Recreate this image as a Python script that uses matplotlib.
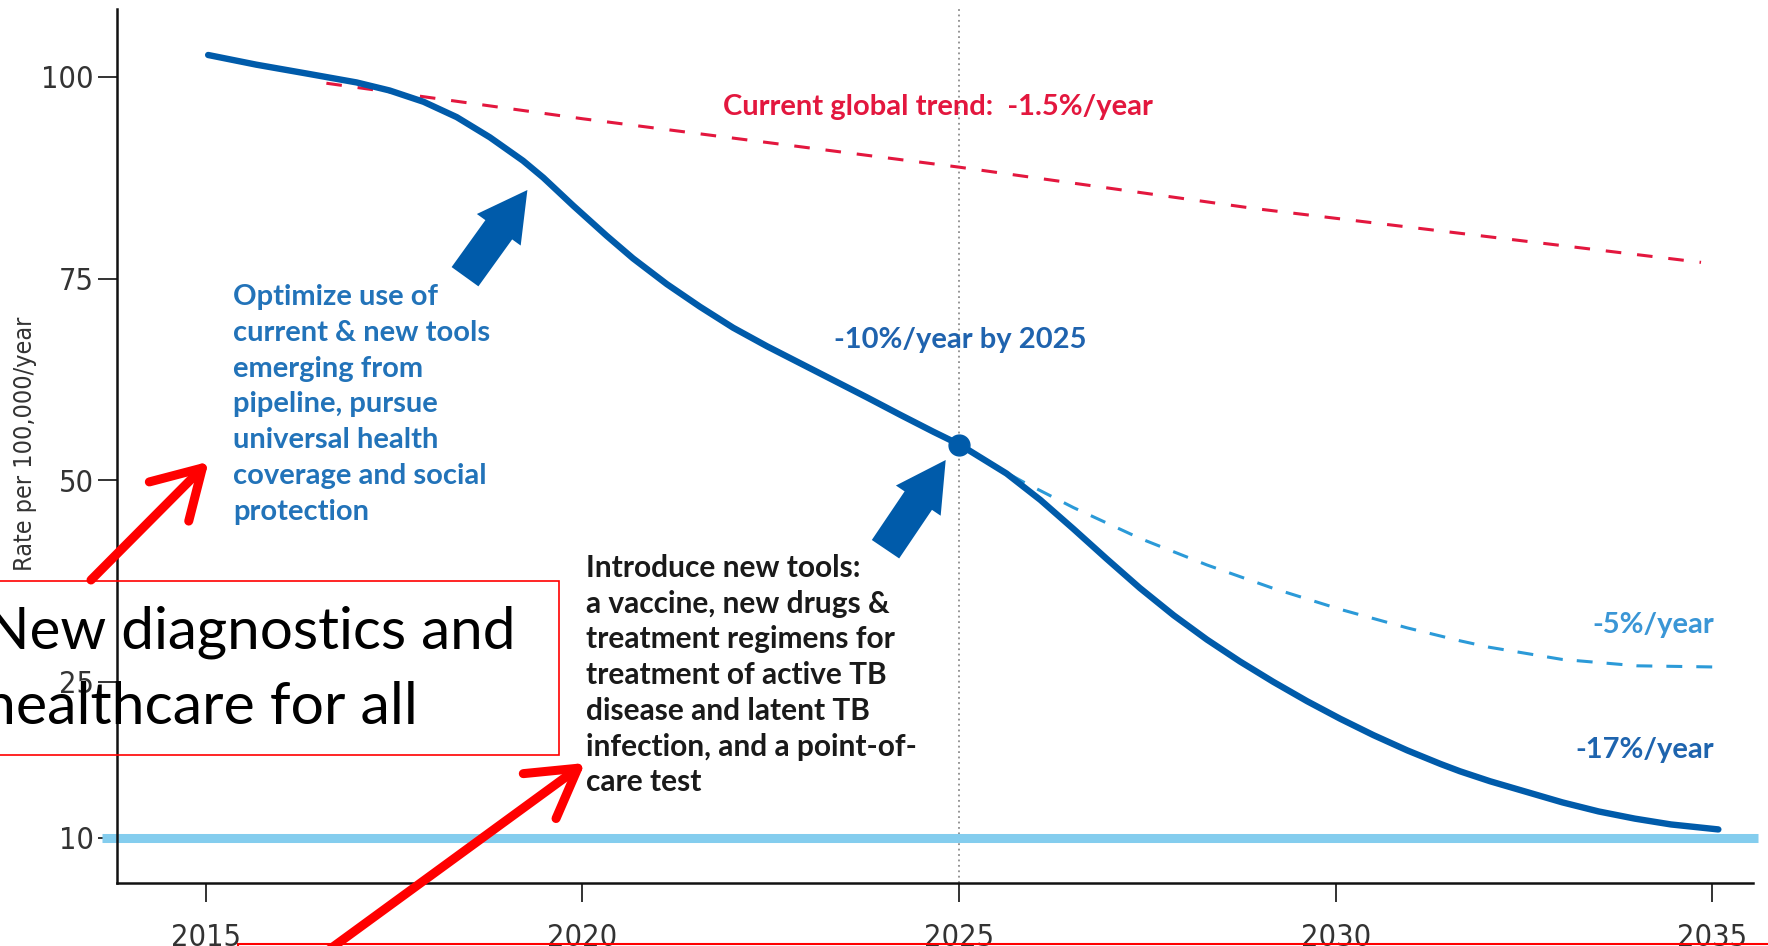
import numpy as np
import matplotlib
matplotlib.use("Agg")
import matplotlib.pyplot as plt
from matplotlib import font_manager as fm
from matplotlib.patches import FancyArrow, Rectangle

# ---------------- data ----------------
years_main = [2015.03, 2015.67, 2016.34, 2017.00, 2017.44, 2017.89, 2018.33, 2018.77,
              2019.21, 2019.48, 2019.88, 2020.32, 2020.67, 2021.12, 2021.56, 2022.00,
              2022.45, 2022.89, 2023.33, 2023.77, 2024.22, 2024.66, 2025.01,
              2025.63, 2026.08, 2026.52, 2026.96, 2027.40, 2027.85, 2028.29, 2028.73,
              2029.17, 2029.62, 2030.06, 2030.50, 2030.95, 2031.39, 2031.65,
              2032.05, 2033.01, 2033.49, 2033.97, 2034.45, 2035.08]
rate_main = [102.7, 101.5, 100.4, 99.3, 98.3, 96.9, 95.0, 92.5,
             89.6, 87.5, 84.0, 80.3, 77.5, 74.3, 71.5, 68.9,
             66.6, 64.5, 62.4, 60.3, 58.1, 56.0, 54.4,
             50.83, 47.55, 43.95, 40.25, 36.64, 33.25, 30.25, 27.53,
             25.02, 23.15, 21.46, 19.89, 18.42, 17.12, 16.41,
             15.45, 13.42, 12.55, 11.86, 11.30, 10.82]

years_trend = [2016.6, 2020, 2025, 2028.9, 2034.85]
rate_trend = [99.2, 94.8, 88.8, 83.7, 77.0]

years_5pct = [2025.0, 2025.46, 2025.85, 2026.52, 2027.40, 2028.29, 2029.17, 2030.06,
              2030.95, 2031.65, 2032.04, 2033.0, 2034.0, 2035.07]
rate_5pct = [54.4, 51.8, 49.8, 46.6, 42.8, 39.5, 36.6, 34.0,
             31.7, 30.1, 29.3, 27.8, 27.0, 26.85]

milestone_year = [2025]
milestone_rate = [54.4]
target_rate = 10

x_ticks = [2015, 2020, 2025, 2030, 2035]
y_ticks = [10, 25, 50, 75, 100]

# ---------------- fonts ----------------
ttf = fm.fontManager.ttflist
names = {f.name for f in ttf}
narrow_fp = None
for f in ttf:
    if f.name == 'Liberation Sans Narrow' and f.weight in (400, 'normal', 'regular') and f.style == 'normal':
        narrow_fp = fm.FontProperties(fname=f.fname)
        break
if narrow_fp is None:
    for f in ttf:
        if (('Narrow' in f.name or 'Condensed' in f.name or f.stretch in ('condensed', 'semi-condensed'))
                and f.style == 'normal' and f.weight in (400, 'normal', 'regular')):
            narrow_fp = fm.FontProperties(fname=f.fname)
            break
HAVE_NARROW = narrow_fp is not None
if not HAVE_NARROW:
    narrow_fp = fm.FontProperties(family='Liberation Sans' if 'Liberation Sans' in names else 'DejaVu Sans')
TICK_SIZE = 22 if HAVE_NARROW else 19.5
YLAB_SIZE = 18 if HAVE_NARROW else 15

BOLD = 'Lato' if 'Lato' in names else 'DejaVu Sans'
CAL = 'Lato' if 'Lato' in names else 'DejaVu Sans'

W, H = 1768, 946
fig = plt.figure(figsize=(W / 100, H / 100), dpi=100)
ax = fig.add_axes([117 / W, 63 / H, (1753 - 117) / W, (937 - 63) / H])


def P(x, y):
    return (x / W, 1 - y / H)


# piecewise linear y-scale (lower band is stretched in the original)
K = 1.289


def fwd(y):
    y = np.asarray(y, dtype=float)
    return np.where(y >= 25, y, 25 - (25 - y) * K)


def inv(t):
    t = np.asarray(t, dtype=float)
    return np.where(t >= 25, t, 25 - (25 - t) / K)


ax.set_yscale('function', functions=(fwd, inv))
ax.set_xlim(2013.82, 2035.54)
ax.set_ylim(5.67, 108.4)

DARK = '#005BAA'
ax.plot([2013.62, 2035.6], [target_rate, target_rate], color='#84CDEE', lw=6.5,
        solid_capstyle='butt', clip_on=False, zorder=2)
ax.axvline(2025, color='#8C8C8C', lw=1.3, ls=(0, (1, 2.0)), zorder=1)
ax.plot(years_trend, rate_trend, color='#E3173E', lw=2.2, dashes=(5.1, 5.2), zorder=3)
ax.plot(years_5pct, rate_5pct, color='#2B9AD8', lw=2.2, dashes=(5.2, 4.6), zorder=3)
ax.plot(years_main, rate_main, color=DARK, lw=4.6, solid_capstyle='round',
        solid_joinstyle='round', zorder=4)
ax.plot(milestone_year, milestone_rate, 'o', color=DARK, ms=15, zorder=5)

for s in ['top', 'right']:
    ax.spines[s].set_visible(False)
for s in ['left', 'bottom']:
    ax.spines[s].set_linewidth(1.8)
    ax.spines[s].set_color('#111111')

ax.set_xticks(x_ticks)
ax.set_xticklabels([str(v) for v in x_ticks])
ax.set_yticks(y_ticks)
ax.set_yticklabels([str(v) for v in y_ticks])
ax.tick_params(axis='both', length=13.7, width=1.2, color='#111111',
               labelsize=TICK_SIZE, labelcolor='#333333')
ax.tick_params(axis='x', pad=15)
ax.tick_params(axis='y', pad=3)
for lab in ax.get_xticklabels() + ax.get_yticklabels():
    lab.set_fontproperties(narrow_fp)
    lab.set_fontsize(TICK_SIZE)
ax.minorticks_off()

fig.text(*P(25, 444), 'Rate per 100,000/year', rotation=90, ha='center', va='center',
         fontproperties=narrow_fp, fontsize=YLAB_SIZE, color='#333333')

# ---------------- annotations ----------------
FS = 21
fig.text(*P(938, 107), 'Current global trend:  -1.5%/year', ha='center', va='center',
         fontsize=FS, color='#E3173E', family=BOLD, weight='bold')
fig.text(*P(960, 340), '-10%/year by 2025', ha='center', va='center',
         fontsize=FS, color='#1F63AE', family=BOLD, weight='bold')
fig.text(*P(1714, 625), '-5%/year', ha='right', va='center',
         fontsize=FS, color='#3A96D6', family=BOLD, weight='bold')
fig.text(*P(1714, 750), '-17%/year', ha='right', va='center',
         fontsize=FS, color='#1E64AE', family=BOLD, weight='bold')

opt_lines = ['Optimize use of', 'current & new tools', 'emerging from',
             'pipeline, pursue', 'universal health', 'coverage and social', 'protection']
for i, t in enumerate(opt_lines):
    fig.text(*P(233, 297 + i * 35.8), t, ha='left', va='center', fontsize=FS,
             color='#2273B9', family=BOLD, weight='bold')

intro_lines = ['Introduce new tools:', 'a vaccine, new drugs &', 'treatment regimens for',
               'treatment of active TB', 'disease and latent TB',
               'infection, and a point-of-', 'care test']
for i, t in enumerate(intro_lines):
    fig.text(*P(586, 568 + i * 35.7), t, ha='left', va='center', fontsize=21.5,
             color='#1A1A1A', family=BOLD, weight='bold')

# blue block arrows (display pixels)
for (tx, ty), (hx, hy) in [((465, 276.7), (527.4, 190)), ((885.5, 549.2), (945.7, 460))]:
    x0, y0 = tx, H - ty
    dx, dy = hx - tx, (H - hy) - y0
    arr = FancyArrow(x0, y0, dx, dy, width=33, head_width=54, head_length=49,
                     length_includes_head=True, color=DARK, lw=0,
                     transform=None, zorder=6)
    fig.patches.append(arr)

# red overlay box + text
fig.patches.append(Rectangle((-10, H - 755), 568.7, 174, fill=False, ec='#FF0000',
                             lw=1.2, transform=None, zorder=7))
fig.text(*P(-15, 632), 'New diagnostics and', ha='left', va='center', fontsize=42,
         color='black', family=CAL)
fig.text(*P(-17, 707), 'healthcare for all', ha='left', va='center', fontsize=42.5,
         color='black', family=CAL)
fig.patches.append(Rectangle((238, -40), 1600, 40 + (H - 944), fill=False, ec='#FF0000',
                             lw=1.5, transform=None, zorder=7))

# red line arrows
for (tx, ty), (hx, hy) in [((91, 580), (208.6, 461.7)), ((326, 952), (585, 763))]:
    fig.add_artist(plt.Annotation('', xy=(hx, H - hy), xycoords='figure pixels',
                                  xytext=(tx, H - ty), textcoords='figure pixels',
                                  arrowprops=dict(arrowstyle='->,head_length=1.7,head_width=1.0',
                                                  color='#FF0000', lw=6.5, mutation_scale=20,
                                                  shrinkA=0, shrinkB=0,
                                                  capstyle='round', joinstyle='round')))

fig.savefig('out.png', dpi=100)
